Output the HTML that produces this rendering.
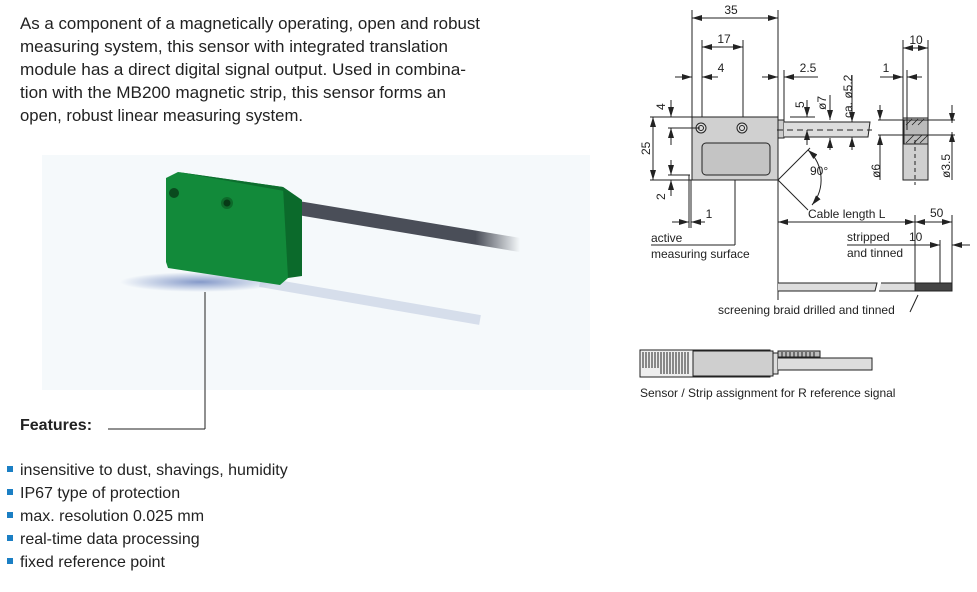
<!DOCTYPE html>
<html><head><meta charset="utf-8"><style>
html,body{margin:0;padding:0;background:#fff;}
svg{display:block;font-family:"Liberation Sans",sans-serif;}
</style></head><body>
<svg width="977" height="592" viewBox="0 0 977 592" xmlns="http://www.w3.org/2000/svg">
<defs>
<marker id="a" viewBox="0 0 10 6" refX="10" refY="3" markerWidth="10" markerHeight="6" orient="auto-start-reverse" markerUnits="userSpaceOnUse"><path d="M0,0L10,3L0,6z" fill="#222"/></marker>
<linearGradient id="cab" x1="0" y1="0" x2="1" y2="0"><stop offset="0.8" stop-color="#4a4e58"/><stop offset="1" stop-color="#4a4e58" stop-opacity="0"/></linearGradient>
<radialGradient id="sh" cx="0.5" cy="0.5" r="0.5"><stop offset="0" stop-color="#3a5aa8" stop-opacity="0.6"/><stop offset="1" stop-color="#3a5aa8" stop-opacity="0"/></radialGradient>
</defs>
<!-- paragraph -->
<g font-size="16.5" fill="#222">
<text x="20" y="29" textLength="460" lengthAdjust="spacingAndGlyphs">As a component of a magnetically operating, open and robust</text>
<text x="20" y="52" textLength="428" lengthAdjust="spacingAndGlyphs">measuring system, this sensor with integrated translation</text>
<text x="20" y="75" textLength="446" lengthAdjust="spacingAndGlyphs">module has a direct digital signal output. Used in combina-</text>
<text x="20" y="98" textLength="426" lengthAdjust="spacingAndGlyphs">tion with the MB200 magnetic strip, this sensor forms an</text>
<text x="20" y="121" textLength="283" lengthAdjust="spacingAndGlyphs">open, robust linear measuring system.</text>
</g>
<!-- photo -->
<rect x="42" y="155" width="548" height="235" fill="#f5f9fb"/>
<ellipse cx="200" cy="282" rx="80" ry="10" fill="url(#sh)"/>
<path d="M260,282 L480,320" stroke="#b8c4dc" stroke-width="10" opacity="0.5"/>
<path d="M298,208 L520,245" stroke="url(#cab)" stroke-width="14" stroke-linecap="round"/>
<polygon points="166,178 178,172 283,187 288,194 288,278 280,285 168,268 166,262" fill="#128a3a"/>
<polygon points="283,187 302,200 302,276 288,278" fill="#0b6a2b"/>
<polygon points="178,172 283,187 302,200 290,192" fill="#0d6e2e"/>
<circle cx="174" cy="193" r="5" fill="#0a4a1e"/>
<circle cx="227" cy="203" r="6" fill="#0d6a2a"/><circle cx="227" cy="203" r="3.5" fill="#073a16"/>
<line x1="205" y1="292" x2="205" y2="429" stroke="#222" stroke-width="1"/>
<line x1="108" y1="429" x2="205" y2="429" stroke="#222" stroke-width="1"/>
<!-- features -->
<text x="20" y="430" font-size="16" font-weight="bold" fill="#222">Features:</text>
<g font-size="16" fill="#222">
<rect x="7" y="466" width="6" height="6" fill="#1b7fc4"/><text x="20" y="475">insensitive to dust, shavings, humidity</text>
<rect x="7" y="489" width="6" height="6" fill="#1b7fc4"/><text x="20" y="498">IP67 type of protection</text>
<rect x="7" y="512" width="6" height="6" fill="#1b7fc4"/><text x="20" y="521">max. resolution 0.025 mm</text>
<rect x="7" y="535" width="6" height="6" fill="#1b7fc4"/><text x="20" y="544">real-time data processing</text>
<rect x="7" y="558" width="6" height="6" fill="#1b7fc4"/><text x="20" y="567">fixed reference point</text>
</g>
<!-- drawing -->
<g stroke="#222" stroke-width="1" fill="none">
<rect x="692" y="117" width="86" height="63" fill="#d0d0d0"/>
<rect x="702" y="143" width="68" height="32" rx="4" fill="#c4c4c4"/>
<circle cx="701" cy="128" r="5" fill="#ddd"/><circle cx="701" cy="128" r="2.5"/>
<circle cx="742" cy="128" r="5" fill="#ddd"/><circle cx="742" cy="128" r="2.5"/>
<rect x="778" y="120" width="6" height="18" fill="#ccc"/>
<path d="M784,122 L870,122 L868,137 L784,137" fill="#ddd"/>
<line x1="777" y1="130" x2="872" y2="130" stroke-dasharray="6,4"/>
<!-- 35 -->
<line x1="692" y1="10" x2="692" y2="117"/><line x1="778" y1="10" x2="778" y2="117"/>
<line x1="692" y1="18" x2="778" y2="18" marker-start="url(#a)" marker-end="url(#a)"/>
<line x1="702" y1="40" x2="702" y2="117"/><line x1="743" y1="40" x2="743" y2="117"/>
<line x1="702" y1="47" x2="743" y2="47" marker-start="url(#a)" marker-end="url(#a)"/>
<line x1="675" y1="77" x2="692" y2="77" marker-end="url(#a)"/><line x1="718" y1="77" x2="702" y2="77" marker-end="url(#a)"/>
<line x1="762" y1="77" x2="778" y2="77" marker-end="url(#a)"/><line x1="818" y1="77" x2="784" y2="77" marker-end="url(#a)"/>
<line x1="784" y1="70" x2="784" y2="120"/>
<!-- left dims -->
<line x1="650" y1="117" x2="692" y2="117"/><line x1="650" y1="180" x2="692" y2="180"/>
<line x1="653" y1="117" x2="653" y2="180" marker-start="url(#a)" marker-end="url(#a)"/>
<line x1="668" y1="128" x2="700" y2="128"/>
<line x1="671" y1="100" x2="671" y2="117" marker-end="url(#a)"/><line x1="671" y1="145" x2="671" y2="128" marker-end="url(#a)"/>
<line x1="668" y1="175" x2="690" y2="175"/>
<line x1="671" y1="160" x2="671" y2="175" marker-end="url(#a)"/><line x1="671" y1="196" x2="671" y2="180" marker-end="url(#a)"/>
<line x1="689" y1="175" x2="689" y2="228"/><line x1="691" y1="180" x2="691" y2="228"/>
<line x1="672" y1="222" x2="689" y2="222" marker-end="url(#a)"/><line x1="705" y1="222" x2="691" y2="222" marker-end="url(#a)"/>
<line x1="735" y1="180" x2="735" y2="245"/><line x1="651" y1="245" x2="735" y2="245"/>
<!-- cable dims -->
<line x1="790" y1="117" x2="815" y2="117"/>
<line x1="807" y1="100" x2="807" y2="117" marker-end="url(#a)"/><line x1="807" y1="145" x2="807" y2="130" marker-end="url(#a)"/>
<line x1="830" y1="95" x2="830" y2="120" marker-end="url(#a)"/><line x1="830" y1="150" x2="830" y2="138" marker-end="url(#a)"/>
<line x1="852" y1="75" x2="852" y2="122" marker-end="url(#a)"/><line x1="852" y1="150" x2="852" y2="137" marker-end="url(#a)"/>
<line x1="778" y1="180" x2="810" y2="148"/><line x1="778" y1="180" x2="808" y2="210"/>
<path d="M808,150 A40,40 0 0 1 812,205" marker-start="url(#a)" marker-end="url(#a)"/>
<!-- side view -->
<rect x="903" y="118" width="25" height="62" fill="#d0d0d0"/>
<rect x="904" y="120" width="24" height="24" fill="#bbb"/>
<line x1="903" y1="40" x2="903" y2="118"/><line x1="928" y1="40" x2="928" y2="118"/>
<line x1="903" y1="48" x2="928" y2="48" marker-start="url(#a)" marker-end="url(#a)"/>
<line x1="907" y1="70" x2="907" y2="130"/>
<line x1="880" y1="77" x2="903" y2="77" marker-end="url(#a)"/><line x1="922" y1="77" x2="907" y2="77" marker-end="url(#a)"/>
<line x1="878" y1="120" x2="955" y2="120"/><line x1="878" y1="135" x2="955" y2="135"/>
<line x1="880" y1="105" x2="880" y2="120" marker-end="url(#a)"/><line x1="880" y1="180" x2="880" y2="135" marker-end="url(#a)"/>
<line x1="952" y1="105" x2="952" y2="123" marker-end="url(#a)"/><line x1="952" y1="180" x2="952" y2="132" marker-end="url(#a)"/>
<line x1="915" y1="140" x2="915" y2="185" stroke-dasharray="4,3"/>
<!-- cable length -->
<line x1="778" y1="180" x2="778" y2="300"/>
<line x1="778" y1="222" x2="915" y2="222" marker-start="url(#a)" marker-end="url(#a)"/>
<line x1="915" y1="215" x2="915" y2="290"/><line x1="952" y1="215" x2="952" y2="290"/><line x1="940" y1="240" x2="940" y2="290"/>
<line x1="915" y1="222" x2="952" y2="222" marker-start="url(#a)" marker-end="url(#a)"/>
<line x1="847" y1="245" x2="940" y2="245" marker-end="url(#a)"/><line x1="970" y1="245" x2="952" y2="245" marker-end="url(#a)"/>
<path d="M778,283 L877,283 L875,291 L778,291" fill="#ddd"/>
<path d="M881,283 L915,283 L915,291 L879,291" fill="#ddd"/>
<rect x="915" y="283" width="37" height="8" fill="#444"/>
<line x1="918" y1="295" x2="910" y2="312"/>
<!-- bottom fig -->
<rect x="640" y="350" width="130" height="27" fill="#eee"/>
<rect x="693" y="351" width="80" height="25" fill="#cfcfcf"/>
<rect x="773" y="353" width="5" height="21" fill="#ddd"/>
<path d="M778,358 L872,358 L872,370 L778,370" fill="#ddd"/>
<rect x="778" y="351" width="42" height="6" fill="#bbb"/>
</g>
<g stroke="#222" stroke-width="1">
<path d="M643,352v16M646,352v16M649,352v16M652,352v16M655,352v16M658,352v16M661,352v22M664,352v22M667,352v22M670,352v22M673,352v22M676,352v22M679,352v22M682,352v22M685,352v22M688,352v22M782,352v5M786,352v5M790,352v5M794,352v5M798,352v5M802,352v5M806,352v5M810,352v5M814,352v5"/>
<path d="M906,125l6,-6M912,125l6,-6M918,125l6,-6M906,143l8,-8M914,143l8,-8M920,143l8,-8" stroke-width="0.8"/>
</g>
<g font-size="12" fill="#222">
<text x="731" y="14" text-anchor="middle">35</text>
<text x="724" y="43" text-anchor="middle">17</text>
<text x="721" y="72" text-anchor="middle">4</text>
<text x="808" y="72" text-anchor="middle">2.5</text>
<text x="916" y="44" text-anchor="middle">10</text>
<text x="886" y="72" text-anchor="middle">1</text>
<text x="709" y="218" text-anchor="middle">1</text>
<text x="810" y="175">90°</text>
<text transform="translate(650,155) rotate(-90)">25</text>
<text transform="translate(665,110) rotate(-90)">4</text>
<text transform="translate(665,200) rotate(-90)">2</text>
<text transform="translate(804,108) rotate(-90)">5</text>
<text transform="translate(826,110) rotate(-90)">ø7</text>
<text transform="translate(852,118) rotate(-90)">ca. ø5.2</text>
<text transform="translate(880,178) rotate(-90)">ø6</text>
<text transform="translate(950,178) rotate(-90)">ø3.5</text>
<text x="808" y="218">Cable length L</text>
<text x="930" y="217">50</text>
<text x="847" y="241">stripped</text><text x="909" y="241">10</text>
<text x="847" y="257">and tinned</text>
<text x="651" y="242">active</text>
<text x="651" y="258">measuring surface</text>
<text x="718" y="314">screening braid drilled and tinned</text>
<text x="640" y="397">Sensor / Strip assignment for R reference signal</text>
</g>
</svg>
</body></html>
